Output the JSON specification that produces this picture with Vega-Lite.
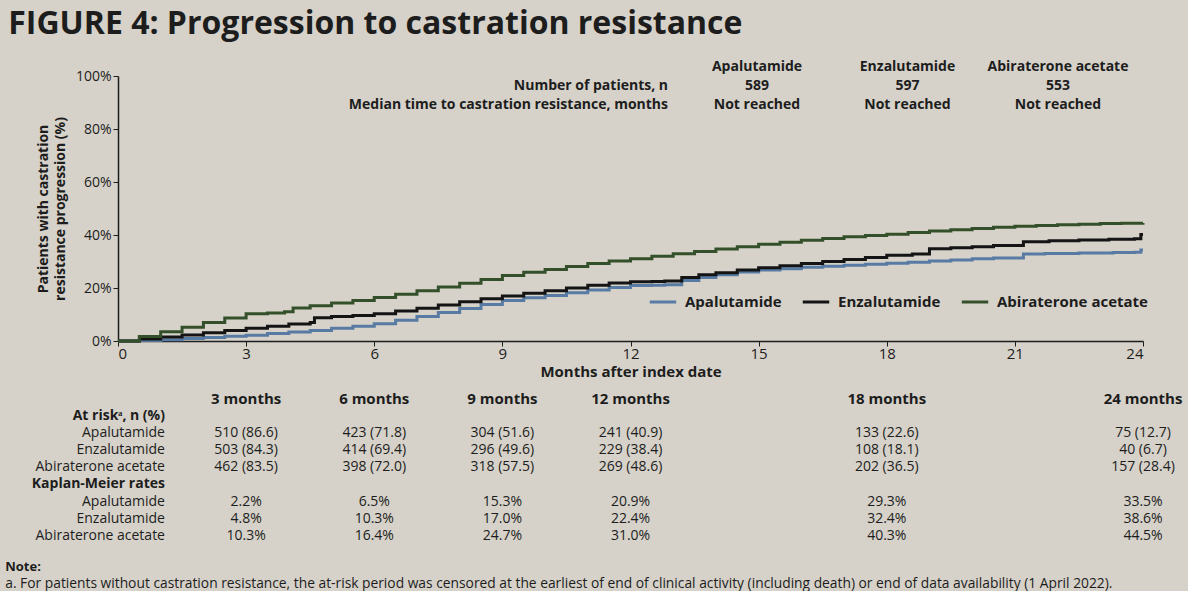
{
  "$schema": "https://vega.github.io/schema/vega-lite/v6.json",
  "background": "#d6d2c9",
  "padding": {"left": 5, "top": 8, "right": 5, "bottom": 0},
  "title": {"text": "FIGURE 4: Progression to castration resistance", "anchor": "start", "fontSize": 32, "font": "Open Sans", "fontWeight": "bold", "color": "#1d1d1d", "offset": 19, "dx": 3},
  "config": {
    "view": {"stroke": null},
    "font": "Open Sans",
    "concat": {"spacing": 13},
    "text": {"color": "#1d1d1d", "font": "Open Sans"}
  },
  "datasets": {
    "curves": [
      {"drug": "Apalutamide", "month": 0, "pct": 0}, {"drug": "Apalutamide", "month": 0.5, "pct": 0.2}, {"drug": "Apalutamide", "month": 1, "pct": 0.5}, {"drug": "Apalutamide", "month": 1.5, "pct": 0.9}, {"drug": "Apalutamide", "month": 2, "pct": 1.3}, {"drug": "Apalutamide", "month": 2.5, "pct": 1.8}, {"drug": "Apalutamide", "month": 3, "pct": 2.2}, {"drug": "Apalutamide", "month": 3.5, "pct": 2.8}, {"drug": "Apalutamide", "month": 4, "pct": 3.4}, {"drug": "Apalutamide", "month": 4.5, "pct": 4.0}, {"drug": "Apalutamide", "month": 5, "pct": 4.8}, {"drug": "Apalutamide", "month": 5.5, "pct": 5.6}, {"drug": "Apalutamide", "month": 6, "pct": 6.5}, {"drug": "Apalutamide", "month": 6.5, "pct": 7.8}, {"drug": "Apalutamide", "month": 7, "pct": 9.2}, {"drug": "Apalutamide", "month": 7.5, "pct": 10.8}, {"drug": "Apalutamide", "month": 8, "pct": 12.3}, {"drug": "Apalutamide", "month": 8.5, "pct": 13.8}, {"drug": "Apalutamide", "month": 9, "pct": 15.3}, {"drug": "Apalutamide", "month": 9.5, "pct": 16.3}, {"drug": "Apalutamide", "month": 10, "pct": 17.2}, {"drug": "Apalutamide", "month": 10.5, "pct": 18.2}, {"drug": "Apalutamide", "month": 11, "pct": 19.2}, {"drug": "Apalutamide", "month": 11.5, "pct": 20.2}, {"drug": "Apalutamide", "month": 12, "pct": 20.9}, {"drug": "Apalutamide", "month": 12.5, "pct": 21.0}, {"drug": "Apalutamide", "month": 12.8, "pct": 21.2}, {"drug": "Apalutamide", "month": 13.2, "pct": 22.8}, {"drug": "Apalutamide", "month": 13.6, "pct": 24.0}, {"drug": "Apalutamide", "month": 14, "pct": 25.0}, {"drug": "Apalutamide", "month": 14.5, "pct": 26.0}, {"drug": "Apalutamide", "month": 15, "pct": 26.8}, {"drug": "Apalutamide", "month": 15.5, "pct": 27.3}, {"drug": "Apalutamide", "month": 16, "pct": 27.8}, {"drug": "Apalutamide", "month": 16.5, "pct": 28.2}, {"drug": "Apalutamide", "month": 17, "pct": 28.6}, {"drug": "Apalutamide", "month": 17.5, "pct": 29.0}, {"drug": "Apalutamide", "month": 18, "pct": 29.3}, {"drug": "Apalutamide", "month": 18.5, "pct": 29.7}, {"drug": "Apalutamide", "month": 19, "pct": 30.2}, {"drug": "Apalutamide", "month": 19.5, "pct": 30.6}, {"drug": "Apalutamide", "month": 20, "pct": 31.0}, {"drug": "Apalutamide", "month": 20.5, "pct": 31.3}, {"drug": "Apalutamide", "month": 21.2, "pct": 32.8}, {"drug": "Apalutamide", "month": 21.7, "pct": 33.0}, {"drug": "Apalutamide", "month": 22.5, "pct": 33.2}, {"drug": "Apalutamide", "month": 23.3, "pct": 33.4}, {"drug": "Apalutamide", "month": 23.8, "pct": 33.5}, {"drug": "Apalutamide", "month": 23.95, "pct": 34.3}, {"drug": "Apalutamide", "month": 24, "pct": 34.3},
      {"drug": "Enzalutamide", "month": 0, "pct": 0}, {"drug": "Enzalutamide", "month": 0.5, "pct": 0.8}, {"drug": "Enzalutamide", "month": 1, "pct": 1.5}, {"drug": "Enzalutamide", "month": 1.5, "pct": 2.3}, {"drug": "Enzalutamide", "month": 2, "pct": 3.1}, {"drug": "Enzalutamide", "month": 2.5, "pct": 4.0}, {"drug": "Enzalutamide", "month": 3, "pct": 4.8}, {"drug": "Enzalutamide", "month": 3.5, "pct": 5.6}, {"drug": "Enzalutamide", "month": 4, "pct": 6.4}, {"drug": "Enzalutamide", "month": 4.5, "pct": 7.0}, {"drug": "Enzalutamide", "month": 4.6, "pct": 8.8}, {"drug": "Enzalutamide", "month": 5, "pct": 9.2}, {"drug": "Enzalutamide", "month": 5.5, "pct": 9.6}, {"drug": "Enzalutamide", "month": 6, "pct": 10.3}, {"drug": "Enzalutamide", "month": 6.5, "pct": 11.3}, {"drug": "Enzalutamide", "month": 7, "pct": 12.4}, {"drug": "Enzalutamide", "month": 7.5, "pct": 13.6}, {"drug": "Enzalutamide", "month": 8, "pct": 14.8}, {"drug": "Enzalutamide", "month": 8.5, "pct": 15.9}, {"drug": "Enzalutamide", "month": 9, "pct": 17.0}, {"drug": "Enzalutamide", "month": 9.5, "pct": 18.0}, {"drug": "Enzalutamide", "month": 10, "pct": 19.0}, {"drug": "Enzalutamide", "month": 10.5, "pct": 20.0}, {"drug": "Enzalutamide", "month": 11, "pct": 21.0}, {"drug": "Enzalutamide", "month": 11.5, "pct": 21.9}, {"drug": "Enzalutamide", "month": 12, "pct": 22.4}, {"drug": "Enzalutamide", "month": 12.5, "pct": 22.5}, {"drug": "Enzalutamide", "month": 12.8, "pct": 22.6}, {"drug": "Enzalutamide", "month": 13.2, "pct": 24.0}, {"drug": "Enzalutamide", "month": 13.6, "pct": 25.0}, {"drug": "Enzalutamide", "month": 14, "pct": 25.8}, {"drug": "Enzalutamide", "month": 14.5, "pct": 26.8}, {"drug": "Enzalutamide", "month": 15, "pct": 27.6}, {"drug": "Enzalutamide", "month": 15.5, "pct": 28.4}, {"drug": "Enzalutamide", "month": 16, "pct": 29.2}, {"drug": "Enzalutamide", "month": 16.5, "pct": 30.0}, {"drug": "Enzalutamide", "month": 17, "pct": 30.8}, {"drug": "Enzalutamide", "month": 17.5, "pct": 31.5}, {"drug": "Enzalutamide", "month": 18, "pct": 32.4}, {"drug": "Enzalutamide", "month": 18.6, "pct": 32.8}, {"drug": "Enzalutamide", "month": 19, "pct": 34.8}, {"drug": "Enzalutamide", "month": 19.5, "pct": 35.2}, {"drug": "Enzalutamide", "month": 20, "pct": 35.6}, {"drug": "Enzalutamide", "month": 20.5, "pct": 36.0}, {"drug": "Enzalutamide", "month": 21.2, "pct": 37.5}, {"drug": "Enzalutamide", "month": 21.8, "pct": 37.8}, {"drug": "Enzalutamide", "month": 22.5, "pct": 38.1}, {"drug": "Enzalutamide", "month": 23.2, "pct": 38.4}, {"drug": "Enzalutamide", "month": 23.8, "pct": 38.6}, {"drug": "Enzalutamide", "month": 23.95, "pct": 40.2}, {"drug": "Enzalutamide", "month": 24, "pct": 40.2},
      {"drug": "Abiraterone acetate", "month": 0, "pct": 0}, {"drug": "Abiraterone acetate", "month": 0.5, "pct": 1.7}, {"drug": "Abiraterone acetate", "month": 1, "pct": 3.5}, {"drug": "Abiraterone acetate", "month": 1.5, "pct": 5.2}, {"drug": "Abiraterone acetate", "month": 2, "pct": 7.0}, {"drug": "Abiraterone acetate", "month": 2.5, "pct": 8.7}, {"drug": "Abiraterone acetate", "month": 3, "pct": 10.3}, {"drug": "Abiraterone acetate", "month": 3.5, "pct": 10.6}, {"drug": "Abiraterone acetate", "month": 3.9, "pct": 11.0}, {"drug": "Abiraterone acetate", "month": 4.1, "pct": 12.5}, {"drug": "Abiraterone acetate", "month": 4.5, "pct": 13.3}, {"drug": "Abiraterone acetate", "month": 5, "pct": 14.3}, {"drug": "Abiraterone acetate", "month": 5.5, "pct": 15.3}, {"drug": "Abiraterone acetate", "month": 6, "pct": 16.4}, {"drug": "Abiraterone acetate", "month": 6.5, "pct": 17.6}, {"drug": "Abiraterone acetate", "month": 7, "pct": 19.0}, {"drug": "Abiraterone acetate", "month": 7.5, "pct": 20.4}, {"drug": "Abiraterone acetate", "month": 8, "pct": 21.8}, {"drug": "Abiraterone acetate", "month": 8.5, "pct": 23.2}, {"drug": "Abiraterone acetate", "month": 9, "pct": 24.7}, {"drug": "Abiraterone acetate", "month": 9.5, "pct": 25.9}, {"drug": "Abiraterone acetate", "month": 10, "pct": 27.0}, {"drug": "Abiraterone acetate", "month": 10.5, "pct": 28.1}, {"drug": "Abiraterone acetate", "month": 11, "pct": 29.2}, {"drug": "Abiraterone acetate", "month": 11.5, "pct": 30.2}, {"drug": "Abiraterone acetate", "month": 12, "pct": 31.0}, {"drug": "Abiraterone acetate", "month": 12.5, "pct": 32.0}, {"drug": "Abiraterone acetate", "month": 13, "pct": 32.9}, {"drug": "Abiraterone acetate", "month": 13.5, "pct": 33.8}, {"drug": "Abiraterone acetate", "month": 14, "pct": 34.7}, {"drug": "Abiraterone acetate", "month": 14.5, "pct": 35.6}, {"drug": "Abiraterone acetate", "month": 15, "pct": 36.5}, {"drug": "Abiraterone acetate", "month": 15.5, "pct": 37.3}, {"drug": "Abiraterone acetate", "month": 16, "pct": 38.0}, {"drug": "Abiraterone acetate", "month": 16.5, "pct": 38.7}, {"drug": "Abiraterone acetate", "month": 17, "pct": 39.3}, {"drug": "Abiraterone acetate", "month": 17.5, "pct": 39.8}, {"drug": "Abiraterone acetate", "month": 18, "pct": 40.3}, {"drug": "Abiraterone acetate", "month": 18.5, "pct": 40.9}, {"drug": "Abiraterone acetate", "month": 19, "pct": 41.5}, {"drug": "Abiraterone acetate", "month": 19.5, "pct": 42.0}, {"drug": "Abiraterone acetate", "month": 20, "pct": 42.5}, {"drug": "Abiraterone acetate", "month": 20.5, "pct": 42.9}, {"drug": "Abiraterone acetate", "month": 21, "pct": 43.3}, {"drug": "Abiraterone acetate", "month": 21.5, "pct": 43.6}, {"drug": "Abiraterone acetate", "month": 22, "pct": 43.9}, {"drug": "Abiraterone acetate", "month": 22.5, "pct": 44.1}, {"drug": "Abiraterone acetate", "month": 23, "pct": 44.3}, {"drug": "Abiraterone acetate", "month": 23.5, "pct": 44.4}, {"drug": "Abiraterone acetate", "month": 24, "pct": 44.5}
    ],
    "hdrVals": [
      {"row": "h", "col": "Apalutamide", "text": "Apalutamide"},
      {"row": "h", "col": "Enzalutamide", "text": "Enzalutamide"},
      {"row": "h", "col": "Abiraterone acetate", "text": "Abiraterone acetate"},
      {"row": "n", "col": "Apalutamide", "text": "589"},
      {"row": "n", "col": "Enzalutamide", "text": "597"},
      {"row": "n", "col": "Abiraterone acetate", "text": "553"},
      {"row": "m", "col": "Apalutamide", "text": "Not reached"},
      {"row": "m", "col": "Enzalutamide", "text": "Not reached"},
      {"row": "m", "col": "Abiraterone acetate", "text": "Not reached"}
    ],
    "hdrLabs": [
      {"row": "n", "text": "Number of patients, n"},
      {"row": "m", "text": "Median time to castration resistance, months"}
    ],
    "tabHead": [
      {"row": "hdr", "month": 3, "text": "3 months"},
      {"row": "hdr", "month": 6, "text": "6 months"},
      {"row": "hdr", "month": 9, "text": "9 months"},
      {"row": "hdr", "month": 12, "text": "12 months"},
      {"row": "hdr", "month": 18, "text": "18 months"},
      {"row": "hdr", "month": 24, "text": "24 months"}
    ],
    "tabVals": [
      {"row": "r_apa", "month": 3, "text": "510 (86.6)"}, {"row": "r_apa", "month": 6, "text": "423 (71.8)"}, {"row": "r_apa", "month": 9, "text": "304 (51.6)"}, {"row": "r_apa", "month": 12, "text": "241 (40.9)"}, {"row": "r_apa", "month": 18, "text": "133 (22.6)"}, {"row": "r_apa", "month": 24, "text": "75 (12.7)"},
      {"row": "r_enz", "month": 3, "text": "503 (84.3)"}, {"row": "r_enz", "month": 6, "text": "414 (69.4)"}, {"row": "r_enz", "month": 9, "text": "296 (49.6)"}, {"row": "r_enz", "month": 12, "text": "229 (38.4)"}, {"row": "r_enz", "month": 18, "text": "108 (18.1)"}, {"row": "r_enz", "month": 24, "text": "40 (6.7)"},
      {"row": "r_abi", "month": 3, "text": "462 (83.5)"}, {"row": "r_abi", "month": 6, "text": "398 (72.0)"}, {"row": "r_abi", "month": 9, "text": "318 (57.5)"}, {"row": "r_abi", "month": 12, "text": "269 (48.6)"}, {"row": "r_abi", "month": 18, "text": "202 (36.5)"}, {"row": "r_abi", "month": 24, "text": "157 (28.4)"},
      {"row": "k_apa", "month": 3, "text": "2.2%"}, {"row": "k_apa", "month": 6, "text": "6.5%"}, {"row": "k_apa", "month": 9, "text": "15.3%"}, {"row": "k_apa", "month": 12, "text": "20.9%"}, {"row": "k_apa", "month": 18, "text": "29.3%"}, {"row": "k_apa", "month": 24, "text": "33.5%"},
      {"row": "k_enz", "month": 3, "text": "4.8%"}, {"row": "k_enz", "month": 6, "text": "10.3%"}, {"row": "k_enz", "month": 9, "text": "17.0%"}, {"row": "k_enz", "month": 12, "text": "22.4%"}, {"row": "k_enz", "month": 18, "text": "32.4%"}, {"row": "k_enz", "month": 24, "text": "38.6%"},
      {"row": "k_abi", "month": 3, "text": "10.3%"}, {"row": "k_abi", "month": 6, "text": "16.4%"}, {"row": "k_abi", "month": 9, "text": "24.7%"}, {"row": "k_abi", "month": 12, "text": "31.0%"}, {"row": "k_abi", "month": 18, "text": "40.3%"}, {"row": "k_abi", "month": 24, "text": "44.5%"}
    ],
    "tabLabBold": [
      {"row": "risk", "text": "At riskᵃ, n (%)"},
      {"row": "km", "text": "Kaplan-Meier rates"}
    ],
    "tabLabNorm": [
      {"row": "r_apa", "text": "Apalutamide"}, {"row": "r_enz", "text": "Enzalutamide"}, {"row": "r_abi", "text": "Abiraterone acetate"},
      {"row": "k_apa", "text": "Apalutamide"}, {"row": "k_enz", "text": "Enzalutamide"}, {"row": "k_abi", "text": "Abiraterone acetate"}
    ],
    "noteBold": [
      {"row": "n1", "text": "Note:"}
    ],
    "noteNorm": [
      {"row": "n2", "text": "a. For patients without castration resistance, the at-risk period was censored at the earliest of end of clinical activity (including death) or end of data availability (1 April 2022)."}
    ]
  },
  "vconcat": [
    {
      "width": 1025,
      "height": 265,
      "layer": [
        {
          "layer": [
            {
              "data": {"name": "curves"},
              "mark": {"type": "line", "interpolate": "step-after", "strokeWidth": 3},
              "encoding": {
                "x": {"field": "month", "type": "quantitative", "scale": {"domain": [0, 24], "nice": false, "zero": false},
                  "axis": {"values": [0, 3, 6, 9, 12, 15, 18, 21, 24], "title": "Months after index date", "grid": false, "labelFontSize": 15, "titleFontSize": 15, "titleFontWeight": "bold", "tickSize": 5, "labelPadding": 0, "titlePadding": 3, "domainColor": "#1d1d1d", "tickColor": "#1d1d1d", "labelColor": "#1d1d1d", "titleColor": "#1d1d1d", "domainWidth": 1.5, "labelFont": "Open Sans", "titleFont": "Open Sans"}},
                "y": {"field": "pct", "type": "quantitative", "scale": {"domain": [0, 100], "nice": false},
                  "axis": {"values": [0, 20, 40, 60, 80, 100], "labelExpr": "datum.value + '%'", "title": ["Patients with castration", "resistance progression (%)"], "grid": false, "labelFontSize": 14, "titleFontSize": 14, "titleFontWeight": "bold", "titleLineHeight": 17, "tickSize": 5, "labelPadding": 2, "titlePadding": 8, "domainColor": "#1d1d1d", "tickColor": "#1d1d1d", "labelColor": "#1d1d1d", "titleColor": "#1d1d1d", "domainWidth": 1.5, "labelFont": "Open Sans", "titleFont": "Open Sans"}},
                "color": {"field": "drug", "type": "nominal",
                  "scale": {"domain": ["Apalutamide", "Enzalutamide", "Abiraterone acetate"], "range": ["#587ba4", "#141414", "#34502a"]},
                  "legend": {"title": null, "orient": "none", "legendX": 530, "legendY": 211, "direction": "horizontal", "symbolType": "stroke", "symbolStrokeWidth": 3, "symbolSize": 700, "labelFontSize": 15, "labelFontWeight": "bold", "labelFont": "Open Sans", "labelColor": "#1d1d1d", "columnPadding": 14, "labelOffset": 7}}
              }
            },
            {
              "mark": {"type": "rule", "color": "#1d1d1d", "strokeWidth": 1.5},
              "encoding": {
                "x": {"datum": 13.23, "type": "quantitative", "scale": {"domain": [0, 24], "nice": false, "zero": false}},
                "x2": {"datum": 23.95},
                "y": {"datum": 100.4, "type": "quantitative", "scale": {"domain": [0, 100], "nice": false}}
              }
            },
            {
              "mark": {"type": "rule", "color": "#1d1d1d", "strokeWidth": 1.5},
              "encoding": {
                "x": {"datum": 13.11, "type": "quantitative", "scale": {"domain": [0, 24], "nice": false, "zero": false}},
                "y": {"datum": 100.4, "type": "quantitative", "scale": {"domain": [0, 100], "nice": false}},
                "y2": {"datum": 86}
              }
            }
          ]
        },
        {
          "data": {"name": "hdrVals"},
          "mark": {"type": "text", "fontSize": 14, "fontWeight": "bold", "align": "center", "baseline": "middle"},
          "encoding": {
            "x": {"field": "col", "type": "nominal", "scale": {"type": "point", "domain": ["Apalutamide", "Enzalutamide", "Abiraterone acetate"], "range": [639, 940], "padding": 0}, "axis": null},
            "y": {"field": "row", "type": "nominal", "scale": {"type": "point", "domain": ["h", "n", "m"], "range": [-9, 29], "padding": 0}, "axis": null},
            "text": {"field": "text"}
          }
        },
        {
          "data": {"name": "hdrLabs"},
          "mark": {"type": "text", "fontSize": 14, "fontWeight": "bold", "align": "right", "baseline": "middle"},
          "encoding": {
            "x": {"datum": "lab", "type": "nominal", "scale": {"type": "point", "domain": ["lab"], "range": [550, 550], "padding": 0}, "axis": null},
            "y": {"field": "row", "type": "nominal", "scale": {"type": "point", "domain": ["h", "n", "m"], "range": [-9, 29], "padding": 0}, "axis": null},
            "text": {"field": "text"}
          }
        }
      ],
      "resolve": {"scale": {"x": "independent", "y": "independent"}}
    },
    {
      "width": 1025,
      "height": 188,
      "layer": [
        {
          "data": {"name": "tabHead"},
          "mark": {"type": "text", "fontSize": 15, "fontWeight": "bold", "align": "center", "baseline": "middle"},
          "encoding": {
            "x": {"field": "month", "type": "quantitative", "scale": {"domain": [0, 24], "nice": false, "zero": false}, "axis": null},
            "y": {"field": "row", "type": "nominal", "scale": {"type": "point", "domain": ["hdr", "risk", "r_apa", "r_enz", "r_abi", "km", "k_apa", "k_enz", "k_abi", "gap", "n1", "n2"], "padding": 0}, "axis": null},
            "text": {"field": "text"}
          }
        },
        {
          "data": {"name": "tabVals"},
          "mark": {"type": "text", "fontSize": 14, "align": "center", "baseline": "middle"},
          "encoding": {
            "x": {"field": "month", "type": "quantitative", "scale": {"domain": [0, 24], "nice": false, "zero": false}, "axis": null},
            "y": {"field": "row", "type": "nominal", "scale": {"type": "point", "domain": ["hdr", "risk", "r_apa", "r_enz", "r_abi", "km", "k_apa", "k_enz", "k_abi", "gap", "n1", "n2"], "padding": 0}, "axis": null},
            "text": {"field": "text"}
          }
        },
        {
          "data": {"name": "tabLabBold"},
          "mark": {"type": "text", "fontSize": 14, "fontWeight": "bold", "align": "right", "baseline": "middle"},
          "encoding": {
            "x": {"datum": 1.1, "type": "quantitative", "scale": {"domain": [0, 24], "nice": false, "zero": false}, "axis": null},
            "y": {"field": "row", "type": "nominal", "scale": {"type": "point", "domain": ["hdr", "risk", "r_apa", "r_enz", "r_abi", "km", "k_apa", "k_enz", "k_abi", "gap", "n1", "n2"], "padding": 0}, "axis": null},
            "text": {"field": "text"}
          }
        },
        {
          "data": {"name": "tabLabNorm"},
          "mark": {"type": "text", "fontSize": 14, "align": "right", "baseline": "middle"},
          "encoding": {
            "x": {"datum": 1.1, "type": "quantitative", "scale": {"domain": [0, 24], "nice": false, "zero": false}, "axis": null},
            "y": {"field": "row", "type": "nominal", "scale": {"type": "point", "domain": ["hdr", "risk", "r_apa", "r_enz", "r_abi", "km", "k_apa", "k_enz", "k_abi", "gap", "n1", "n2"], "padding": 0}, "axis": null},
            "text": {"field": "text"}
          }
        },
        {
          "data": {"name": "noteBold"},
          "mark": {"type": "text", "fontSize": 13, "fontWeight": "bold", "align": "left", "baseline": "middle", "yOffset": -3},
          "encoding": {
            "x": {"datum": -2.64, "type": "quantitative", "scale": {"domain": [0, 24], "nice": false, "zero": false}, "axis": null},
            "y": {"field": "row", "type": "nominal", "scale": {"type": "point", "domain": ["hdr", "risk", "r_apa", "r_enz", "r_abi", "km", "k_apa", "k_enz", "k_abi", "gap", "n1", "n2"], "padding": 0}, "axis": null},
            "text": {"field": "text"}
          }
        },
        {
          "data": {"name": "noteNorm"},
          "mark": {"type": "text", "fontSize": 13.8, "align": "left", "baseline": "middle", "yOffset": -3},
          "encoding": {
            "x": {"datum": -2.64, "type": "quantitative", "scale": {"domain": [0, 24], "nice": false, "zero": false}, "axis": null},
            "y": {"field": "row", "type": "nominal", "scale": {"type": "point", "domain": ["hdr", "risk", "r_apa", "r_enz", "r_abi", "km", "k_apa", "k_enz", "k_abi", "gap", "n1", "n2"], "padding": 0}, "axis": null},
            "text": {"field": "text"}
          }
        },
        {
          "mark": {"type": "rule", "color": "#1d1d1d", "strokeWidth": 1.5, "yOffset": 10},
          "encoding": {
            "x": {"datum": 1.4, "type": "quantitative", "scale": {"domain": [0, 24], "nice": false, "zero": false}, "axis": null},
            "x2": {"datum": 25.0},
            "y": {"datum": "hdr", "type": "nominal", "scale": {"type": "point", "domain": ["hdr", "risk", "r_apa", "r_enz", "r_abi", "km", "k_apa", "k_enz", "k_abi", "gap", "n1", "n2"], "padding": 0}, "axis": null}
          }
        },
        {
          "mark": {"type": "rule", "color": "#1d1d1d", "strokeWidth": 1.5, "yOffset": 10, "y2Offset": 8},
          "encoding": {
            "x": {"datum": 1.4, "type": "quantitative", "scale": {"domain": [0, 24], "nice": false, "zero": false}, "axis": null},
            "y": {"datum": "hdr", "type": "nominal", "scale": {"type": "point", "domain": ["hdr", "risk", "r_apa", "r_enz", "r_abi", "km", "k_apa", "k_enz", "k_abi", "gap", "n1", "n2"], "padding": 0}, "axis": null},
            "y2": {"datum": "k_abi"}
          }
        }
      ]
    }
  ]
}
